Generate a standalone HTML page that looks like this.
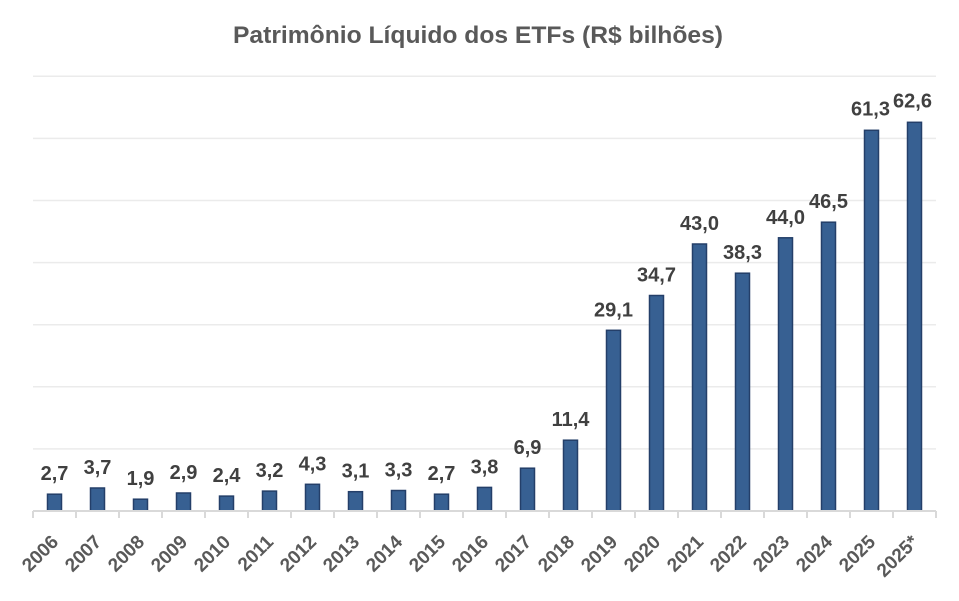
<!DOCTYPE html>
<html>
<head>
<meta charset="utf-8">
<style>
html,body{margin:0;padding:0;background:#fff;}
svg{display:block;}
text{font-family:"Liberation Sans",Arial,sans-serif;font-weight:bold;}
</style>
</head>
<body>
<svg width="959" height="601" viewBox="0 0 959 601" xmlns="http://www.w3.org/2000/svg">
<rect width="959" height="601" fill="#fff"/>
<text x="478" y="43" text-anchor="middle" font-size="24" fill="#595959" textLength="490" lengthAdjust="spacingAndGlyphs">Patrimônio Líquido dos ETFs (R$ bilhões)</text>
<g stroke="#ebebeb" stroke-width="1.5">
<line x1="33" y1="448.9" x2="936" y2="448.9"/>
<line x1="33" y1="386.8" x2="936" y2="386.8"/>
<line x1="33" y1="324.7" x2="936" y2="324.7"/>
<line x1="33" y1="262.6" x2="936" y2="262.6"/>
<line x1="33" y1="200.5" x2="936" y2="200.5"/>
<line x1="33" y1="138.4" x2="936" y2="138.4"/>
<line x1="33" y1="76.3" x2="936" y2="76.3"/>
</g>
<g fill="#376092" stroke="#243f69" stroke-width="1.5">
<rect x="47.5" y="494.2" width="14" height="16.8"/>
<rect x="90.5" y="488.0" width="14" height="23.0"/>
<rect x="133.5" y="499.2" width="14" height="11.8"/>
<rect x="176.5" y="493.0" width="14" height="18.0"/>
<rect x="219.5" y="496.1" width="14" height="14.9"/>
<rect x="262.5" y="491.1" width="14" height="19.9"/>
<rect x="305.5" y="484.3" width="14" height="26.7"/>
<rect x="348.5" y="491.7" width="14" height="19.3"/>
<rect x="391.5" y="490.5" width="14" height="20.5"/>
<rect x="434.5" y="494.2" width="14" height="16.8"/>
<rect x="477.5" y="487.4" width="14" height="23.6"/>
<rect x="520.5" y="468.2" width="14" height="42.8"/>
<rect x="563.5" y="440.2" width="14" height="70.8"/>
<rect x="606.5" y="330.3" width="14" height="180.7"/>
<rect x="649.5" y="295.5" width="14" height="215.5"/>
<rect x="692.5" y="244.0" width="14" height="267.0"/>
<rect x="735.5" y="273.2" width="14" height="237.8"/>
<rect x="778.5" y="237.8" width="14" height="273.2"/>
<rect x="821.5" y="222.2" width="14" height="288.8"/>
<rect x="864.5" y="130.3" width="14" height="380.7"/>
<rect x="907.5" y="122.3" width="14" height="388.7"/>
</g>
<g stroke="#d9d9d9" stroke-width="2">
<line x1="33" y1="511" x2="936" y2="511"/>
<line x1="33" y1="511" x2="33" y2="518"/>
<line x1="76" y1="511" x2="76" y2="518"/>
<line x1="119" y1="511" x2="119" y2="518"/>
<line x1="162" y1="511" x2="162" y2="518"/>
<line x1="205" y1="511" x2="205" y2="518"/>
<line x1="248" y1="511" x2="248" y2="518"/>
<line x1="291" y1="511" x2="291" y2="518"/>
<line x1="334" y1="511" x2="334" y2="518"/>
<line x1="377" y1="511" x2="377" y2="518"/>
<line x1="420" y1="511" x2="420" y2="518"/>
<line x1="463" y1="511" x2="463" y2="518"/>
<line x1="506" y1="511" x2="506" y2="518"/>
<line x1="549" y1="511" x2="549" y2="518"/>
<line x1="592" y1="511" x2="592" y2="518"/>
<line x1="635" y1="511" x2="635" y2="518"/>
<line x1="678" y1="511" x2="678" y2="518"/>
<line x1="721" y1="511" x2="721" y2="518"/>
<line x1="764" y1="511" x2="764" y2="518"/>
<line x1="807" y1="511" x2="807" y2="518"/>
<line x1="850" y1="511" x2="850" y2="518"/>
<line x1="893" y1="511" x2="893" y2="518"/>
<line x1="936" y1="511" x2="936" y2="518"/>
</g>
<g font-size="20" fill="#404040" text-anchor="middle">
<text x="54.5" y="480.2">2,7</text>
<text x="97.5" y="474.0">3,7</text>
<text x="140.5" y="485.2">1,9</text>
<text x="183.5" y="479.0">2,9</text>
<text x="226.5" y="482.1">2,4</text>
<text x="269.5" y="477.1">3,2</text>
<text x="312.5" y="470.3">4,3</text>
<text x="355.5" y="477.7">3,1</text>
<text x="398.5" y="476.5">3,3</text>
<text x="441.5" y="480.2">2,7</text>
<text x="484.5" y="473.4">3,8</text>
<text x="527.5" y="454.2">6,9</text>
<text x="570.5" y="426.2">11,4</text>
<text x="613.5" y="316.3">29,1</text>
<text x="656.5" y="281.5">34,7</text>
<text x="699.5" y="230.0">43,0</text>
<text x="742.5" y="259.2">38,3</text>
<text x="785.5" y="223.8">44,0</text>
<text x="828.5" y="208.2">46,5</text>
<text x="870.5" y="115.3">61,3</text>
<text x="912.5" y="107.3">62,6</text>
</g>
<g font-size="19" fill="#595959" text-anchor="end">
<text transform="translate(59.5,543) rotate(-45)">2006</text>
<text transform="translate(102.5,543) rotate(-45)">2007</text>
<text transform="translate(145.5,543) rotate(-45)">2008</text>
<text transform="translate(188.5,543) rotate(-45)">2009</text>
<text transform="translate(231.5,543) rotate(-45)">2010</text>
<text transform="translate(274.5,543) rotate(-45)">2011</text>
<text transform="translate(317.5,543) rotate(-45)">2012</text>
<text transform="translate(360.5,543) rotate(-45)">2013</text>
<text transform="translate(403.5,543) rotate(-45)">2014</text>
<text transform="translate(446.5,543) rotate(-45)">2015</text>
<text transform="translate(489.5,543) rotate(-45)">2016</text>
<text transform="translate(532.5,543) rotate(-45)">2017</text>
<text transform="translate(575.5,543) rotate(-45)">2018</text>
<text transform="translate(618.5,543) rotate(-45)">2019</text>
<text transform="translate(661.5,543) rotate(-45)">2020</text>
<text transform="translate(704.5,543) rotate(-45)">2021</text>
<text transform="translate(747.5,543) rotate(-45)">2022</text>
<text transform="translate(790.5,543) rotate(-45)">2023</text>
<text transform="translate(833.5,543) rotate(-45)">2024</text>
<text transform="translate(876.5,543) rotate(-45)">2025</text>
<text transform="translate(919.5,543) rotate(-45)">2025*</text>
</g>
</svg>
</body>
</html>
